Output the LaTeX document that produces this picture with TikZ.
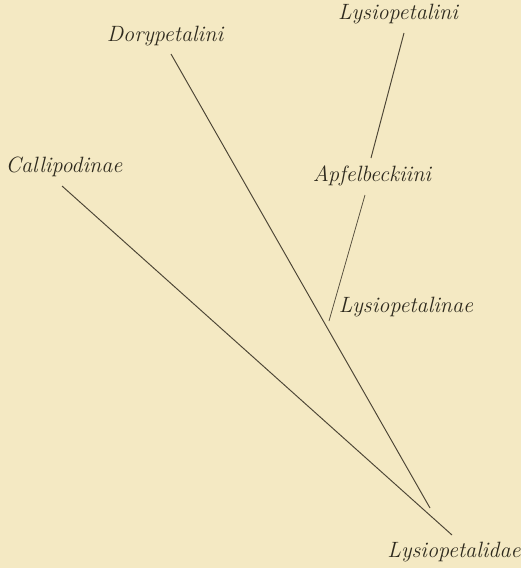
\documentclass[tikz,border=0pt]{standalone}
\usepackage{tikz}
\usetikzlibrary{positioning}
\definecolor{paperCream}{HTML}{F4E9C3}
\definecolor{inkDark}{HTML}{2E2A1E}
\definecolor{inkLine}{HTML}{4D4636}

\begin{document}
\begin{tikzpicture}[x=0.02cm, y=-0.02cm,
    taxon/.style={font=\fontsize{12.6}{15}\selectfont\itshape, text=inkDark, inner sep=1pt},
    branch/.style={inkLine, line width=0.55pt}]
  % paper
  \fill[paperCream] (0,0) rectangle (521,568);
  \useasboundingbox (0,0) rectangle (521,568);

  % labels
  \node[taxon] (callipodinae)   at (64,167)  {Callipodinae};
  \node[taxon] (dorypetalini)   at (165,36)  {Dorypetalini};
  \node[taxon] (lysiopetalini)  at (398,14)  {Lysiopetalini};
  \node[taxon] (apfelbeckiini)  at (372,176) {Apfelbeckiini};
  \node[taxon] (lysiopetalinae) at (406,307) {Lysiopetalinae};
  \node[taxon] (lysiopetalidae) at (454,552) {Lysiopetalidae};

  % branch ends
  \coordinate (calTop) at (62,186);
  \coordinate (calEnd) at (452,535);
  \coordinate (dorTop) at (171,54);
  \coordinate (dorEnd) at (430,508);
  \coordinate (lysTop) at (404,33);
  \coordinate (lysEnd) at (371,158);
  \coordinate (apfTop) at (365,195);
  \coordinate (apfEnd) at (329,321);

  % branches
  \draw[branch] (calTop) -- (calEnd);
  \draw[branch] (dorTop) -- (dorEnd);
  \draw[branch] (lysTop) -- (lysEnd);
  \draw[branch, line width=0.4pt] (apfTop) -- (apfEnd);
\end{tikzpicture}
\end{document}
